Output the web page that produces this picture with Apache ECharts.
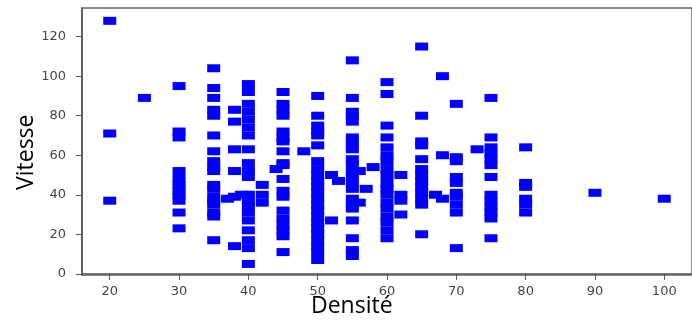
<!DOCTYPE html>
<html>
<head>
<meta charset="utf-8">
<script src="https://cdn.jsdelivr.net/npm/echarts@6/dist/echarts.min.js"></script>
<style>
  html, body { margin: 0; padding: 0; background: #fff; }
  #chart { width: 692px; height: 323px; }
</style>
</head>
<body>
<div id="chart"></div>
<script>
// densité (x) columns and the vitesse (y) values found in each
const densites = [20, 25, 30, 35, 37, 38, 39, 40, 42, 44, 45, 48, 50, 52, 53, 55, 56, 57, 58, 60, 62, 65, 67, 68, 70, 73, 75, 80, 90, 100];
const vitesses = [
  [128, 71, 37],
  [89],
  [95, 72, 69, 52, 48, 45, 42, 40, 37, 31, 23],
  [104, 94, 89, 83, 80, 70, 62, 57, 54, 52, 45, 43, 39, 37, 35, 31, 29, 17],
  [38],
  [83, 77, 63, 52, 39, 14],
  [40],
  [96, 92, 86, 82, 78, 74, 70, 63, 56, 52, 49, 40, 37, 34, 31, 27, 22, 17, 13, 5],
  [45, 40, 36],
  [53],
  [92, 86, 83, 80, 72, 69, 67, 62, 56, 55, 48, 42, 39, 32, 28, 25, 22, 19, 11],
  [62],
  [90, 80, 75, 72, 70, 65, 57, 53, 50, 47, 44, 41, 38, 35, 32, 29, 26, 23, 20, 17, 14, 11, 7],
  [50, 27],
  [47],
  [108, 89, 82, 80, 77, 69, 66, 63, 58, 55, 52, 49, 46, 43, 38, 35, 33, 27, 18, 12, 9],
  [52, 36],
  [43],
  [54],
  [97, 91, 75, 69, 64, 60, 57, 53, 50, 46, 43, 40, 36, 33, 29, 26, 22, 18],
  [50, 40, 37, 30],
  [115, 80, 67, 65, 58, 53, 50, 47, 44, 41, 38, 35, 20],
  [40],
  [100, 60, 38],
  [86, 59, 57, 49, 46, 41, 39, 35, 31, 13],
  [63],
  [89, 69, 64, 61, 58, 55, 49, 40, 37, 34, 31, 28, 18],
  [64, 46, 44, 38, 35, 31],
  [41],
  [38]
];
const xTicks = [20, 30, 40, 50, 60, 70, 80, 90, 100];
const yTicks = [0, 20, 40, 60, 80, 100, 120];

const points = densites.flatMap((d, i) => vitesses[i].map(v => [d, v]));

const chart = echarts.init(document.getElementById('chart'), null, { renderer: 'canvas' });

const tickLabel = { color: '#444', fontSize: 13, fontFamily: 'DejaVu Sans' };
const spine = { show: true, lineStyle: { color: '#555', width: 1.5 } };

chart.setOption({
  animation: false,
  backgroundColor: '#fff',
  grid: { left: 82, top: 8, width: 619, height: 267, show: true, borderColor: '#666', borderWidth: 1.5 },
  xAxis: {
    type: 'value', min: 16, max: 104,
    axisLine: spine,
    axisTick: { show: true, length: 6, customValues: xTicks, lineStyle: { color: '#555' } },
    axisLabel: Object.assign({ margin: 10, customValues: xTicks }, tickLabel),
    splitLine: { show: false },
  },
  yAxis: {
    type: 'value', min: -0.6, max: 134.5,
    axisLine: spine,
    axisTick: { show: true, length: 6, customValues: yTicks, lineStyle: { color: '#555' } },
    axisLabel: Object.assign({ margin: 16, customValues: yTicks }, tickLabel),
    splitLine: { show: false },
  },
  graphic: [
    { type: 'text', left: 311, top: 295, style: { text: 'Densité', fontSize: 23, fontFamily: 'Open Sans', fill: '#000' } },
    { type: 'text', x: 15, y: 190, rotation: Math.PI / 2, style: { text: 'Vitesse', fontSize: 23, fontFamily: 'Open Sans', fill: '#000' } },
  ],
  series: [{
    type: 'scatter',
    data: points,
    symbol: 'rect',
    symbolSize: [13, 8],
    itemStyle: { color: '#0000ff', opacity: 1 },
  }],
});
</script>
</body>
</html>
